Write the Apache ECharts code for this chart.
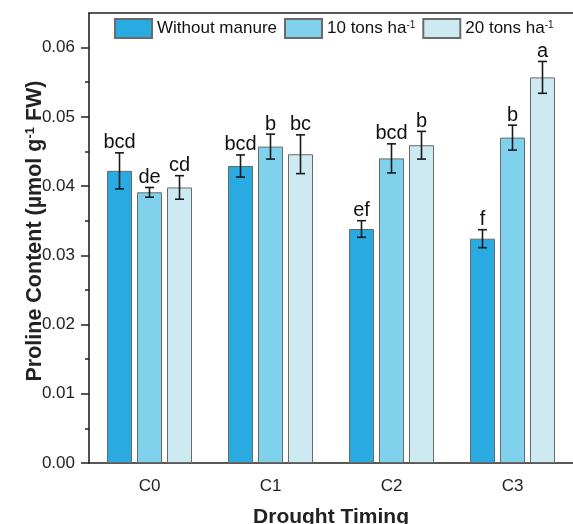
<!DOCTYPE html>
<html>
<head>
<meta charset="UTF-8">
<title>Proline Content</title>
<script src="https://cdn.jsdelivr.net/npm/echarts@6/dist/echarts.min.js"></script>
<style>
  html, body { margin: 0; padding: 0; background: #fff; }
  #view { width: 573px; height: 524px; }
</style>
</head>
<body>
<div id="view"></div>
<script type="text/javascript">
    var categories = ['C0', 'C1', 'C2', 'C3'];
    var seriesNames = ['Without manure', '10 tons ha-1', '20 tons ha-1'];

    // means and standard errors
    var withoutManure = [0.0422, 0.0429, 0.0338, 0.0324];
    var withoutManureErr = [0.0026, 0.0016, 0.0012, 0.0013];
    var tons10 = [0.0391, 0.0457, 0.0440, 0.0470];
    var tons10Err = [0.0007, 0.0018, 0.0021, 0.0018];
    var tons20 = [0.0398, 0.0446, 0.0459, 0.0557];
    var tons20Err = [0.0017, 0.0028, 0.0020, 0.0023];

    // significance letters
    var withoutManureLetters = ['bcd', 'bcd', 'ef', 'f'];
    var tons10Letters = ['de', 'b', 'bcd', 'b'];
    var tons20Letters = ['cd', 'bc', 'b', 'a'];

    var yMajorTicks = [0, 0.01, 0.02, 0.03, 0.04, 0.05, 0.06];
    var yMinorTicks = [0.005, 0.015, 0.025, 0.035, 0.045, 0.055];

    var colors = ['#29abe2', '#7fd1ec', '#cdeaf3'];
    var font = '"Liberation Sans", Arial, sans-serif';
    var barWidth = 25;
    var barGapPx = 5;

    var means = [withoutManure, tons10, tons20];
    var errs = [withoutManureErr, tons10Err, tons20Err];
    var letters = [withoutManureLetters, tons10Letters, tons20Letters];

    var myChart = echarts.init(document.getElementById('view'));

    function errorSeries(k) {
        var offset = (k - 1) * (barWidth + barGapPx);
        var data = [];
        for (var i = 0; i < categories.length; i++) {
            data.push([i, means[k][i], errs[k][i]]);
        }
        return {
            type: 'custom',
            name: seriesNames[k] + ' err',
            z: 10,
            silent: true,
            data: data,
            encode: { x: 0, y: 1 },
            renderItem: function (params, api) {
                var c = api.value(0), m = api.value(1), e = api.value(2);
                var hi = api.coord([c, m + e]);
                var lo = api.coord([c, m - e]);
                var x = hi[0] + offset;
                var st = { stroke: '#1a1a1a', lineWidth: 1.6 };
                return {
                    type: 'group',
                    children: [
                        { type: 'line', shape: { x1: x, y1: hi[1], x2: x, y2: lo[1] }, style: st },
                        { type: 'line', shape: { x1: x - 4.5, y1: hi[1], x2: x + 4.5, y2: hi[1] }, style: st },
                        { type: 'line', shape: { x1: x - 4.5, y1: lo[1], x2: x + 4.5, y2: lo[1] }, style: st },
                        {
                            type: 'text',
                            style: {
                                x: x, y: hi[1],
                                text: letters[k][params.dataIndex],
                                align: 'center', verticalAlign: 'bottom',
                                font: '20px ' + font, fill: '#111'
                            }
                        }
                    ]
                };
            }
        };
    }

    var series = [];
    for (var k = 0; k < 3; k++) {
        series.push({
            type: 'bar',
            name: seriesNames[k],
            data: means[k],
            barWidth: barWidth,
            barGap: (barGapPx / barWidth * 100) + '%',
            itemStyle: { color: colors[k], borderColor: '#6a6a6a', borderWidth: 1 }
        });
    }
    for (k = 0; k < 3; k++) series.push(errorSeries(k));

    var option = {
        animation: false,
        textStyle: { fontFamily: font },
        grid: { left: 89, right: 0, top: 13, bottom: 61, outerBoundsMode: 'none', containLabel: false },
        legend: {
            data: seriesNames,
            left: 114, top: 18,
            padding: 0,
            icon: 'rect',
            itemWidth: 37, itemHeight: 19, itemGap: 7,
            formatter: function (name) {
                if (name.indexOf('-1') > 0) return '{t|' + name.replace('-1', '') + '}{s|-1}';
                return '{t|' + name + '}';
            },
            textStyle: {
                rich: {
                    t: { fontSize: 17, color: '#111', fontFamily: font },
                    s: { fontSize: 10, color: '#111', fontFamily: font, verticalAlign: 'top', lineHeight: 11 }
                }
            }
        },
        xAxis: [{
            type: 'category',
            data: categories,
            position: 'bottom',
            name: 'Drought Timing',
            nameLocation: 'middle',
            nameGap: 44,
            nameMoveOverlap: false,
            nameTextStyle: { fontSize: 21, fontWeight: 'bold', color: '#222', fontFamily: font },
            axisLine: { lineStyle: { color: '#222', width: 1.6 } },
            axisTick: { alignWithLabel: true, length: 7, lineStyle: { color: '#222', width: 1.5 } },
            axisLabel: { fontSize: 17, color: '#222', margin: 15 },
            splitLine: { show: false }
        }, {
            type: 'category',
            data: categories,
            position: 'bottom',
            axisLine: { show: false },
            axisTick: { length: 4, lineStyle: { color: '#222', width: 1.5 } },
            axisLabel: { show: false },
            splitLine: { show: false }
        }, {
            type: 'category',
            data: categories,
            position: 'top',
            axisLine: { lineStyle: { color: '#222', width: 1.6 } },
            axisTick: { show: false },
            axisLabel: { show: false },
            splitLine: { show: false }
        }],
        yAxis: [{
            type: 'value',
            position: 'left',
            min: 0, max: 0.065,
            name: '{t|Proline Content (µmol g}{s|-1}{t| FW)}',
            nameLocation: 'middle',
            nameRotate: 90,
            nameGap: 43,
            nameMoveOverlap: false,
            nameTextStyle: {
                padding: [0, 0, 0, 14],
                rich: {
                    t: { fontSize: 21.5, fontWeight: 'bold', color: '#222', fontFamily: font },
                    s: { fontSize: 13, fontWeight: 'bold', color: '#222', fontFamily: font, verticalAlign: 'top', lineHeight: 14 }
                }
            },
            axisLine: { show: true, lineStyle: { color: '#222', width: 1.6 } },
            axisTick: { show: true, length: 8, customValues: yMajorTicks, lineStyle: { color: '#222', width: 1.5 } },
            axisLabel: {
                fontSize: 17, color: '#222', margin: 14,
                customValues: yMajorTicks,
                formatter: function (v) { return v.toFixed(2); }
            },
            splitLine: { show: false }
        }, {
            type: 'value',
            position: 'left',
            min: 0, max: 0.065,
            axisLine: { show: false },
            axisTick: { show: true, length: 4, customValues: yMinorTicks, lineStyle: { color: '#222', width: 1.5 } },
            axisLabel: { show: false },
            splitLine: { show: false }
        }],
        series: series
    };
    myChart.setOption(option);
</script>
</body>
</html>
